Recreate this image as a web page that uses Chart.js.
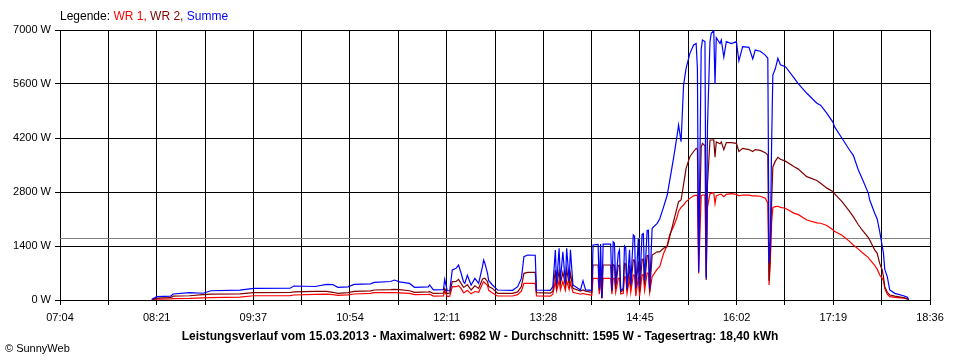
<!DOCTYPE html>
<html>
<head>
<meta charset="utf-8">
<script src="https://cdn.jsdelivr.net/npm/chart.js@4.4.1/dist/chart.umd.min.js"></script>
<style>
  body { margin: 0; background: #fff; }
  #wrap { position: relative; width: 960px; height: 360px; font-family: "Liberation Sans", Arial, sans-serif; }
  #chart { position: absolute; left: 0; top: 0; }
  #legend { position: absolute; left: 60px; top: 9px; font-size: 12px; color: #000; white-space: nowrap; }
  #title { position: absolute; left: 0; width: 960px; top: 329px; text-align: center; font-size: 12px; font-weight: bold; color: #000; white-space: nowrap; }
  #copy { position: absolute; left: 5px; top: 342px; font-size: 11px; color: #000; white-space: nowrap; }
</style>
</head>
<body>
<div id="wrap">
  <canvas id="chart" width="960" height="360"></canvas>
  <div id="legend">Legende: <span style="color:#ff0000">WR 1,</span> <span style="color:#800000">WR 2,</span> <span style="color:#0000ff">Summe</span></div>
  <div id="title">Leistungsverlauf vom 15.03.2013 - Maximalwert: 6982 W - Durchschnitt: 1595 W - Tagesertrag: 18,40 kWh</div>
  <div id="copy">© SunnyWeb</div>
</div>
<script>
// Achse
const startTime = '07:04';
const endTime = '18:36';
const tickLabels = ['07:04', '08:21', '09:37', '10:54', '12:11', '13:28', '14:45', '16:02', '17:19', '18:36'];
const average = 1595;

// Messzeitpunkte
const times = [
  '08:17', '08:21', '08:32', '08:34', '08:47', '08:58', '09:04', '09:27', '09:38', '10:07',
  '10:10', '10:27', '10:36', '10:41', '10:45', '10:53', '10:58', '11:11', '11:14', '11:27',
  '11:30', '11:34', '11:42', '11:46', '11:57', '11:58', '12:01', '12:09', '12:10', '12:12',
  '12:14', '12:16', '12:19', '12:21', '12:23', '12:25', '12:26', '12:28', '12:31', '12:34',
  '12:37', '12:40', '12:41', '12:42', '12:44', '12:45', '12:48', '12:52', '13:04', '13:08',
  '13:11', '13:13', '13:16', '13:22', '13:23', '13:34', '13:36', '13:38', '13:39', '13:41',
  '13:42', '13:44', '13:46', '13:47', '13:49', '13:50', '13:52', '13:58', '14:00', '14:02',
  '14:07', '14:08', '14:12', '14:13', '14:14', '14:15', '14:16', '14:22', '14:23', '14:24',
  '14:25', '14:26', '14:28', '14:29', '14:30', '14:32', '14:33', '14:34', '14:35', '14:37',
  '14:38', '14:40', '14:41', '14:42', '14:44', '14:45', '14:47', '14:48', '14:49', '14:51',
  '14:52', '14:53', '14:55', '14:59', '15:01', '15:04', '15:07', '15:09',
  '15:12', '15:15', '15:16', '15:18', '15:20', '15:22', '15:25', '15:28', '15:30', '15:31',
  '15:32', '15:34', '15:35', '15:37', '15:38', '15:39', '15:41', '15:42', '15:44', '15:45',
  '15:46', '15:49', '15:50', '15:52', '15:54', '15:58', '16:02', '16:04', '16:07', '16:12',
  '16:15', '16:17', '16:21', '16:25', '16:27', '16:28', '16:29', '16:30', '16:31', '16:33',
  '16:35', '16:37', '16:41', '16:48', '16:51', '16:58', '17:06', '17:09', '17:14', '17:19',
  '17:20', '17:26', '17:32', '17:35', '17:39', '17:42', '17:47', '17:48', '17:52', '17:54',
  '17:56', '17:58', '17:59', '18:00', '18:02', '18:04', '18:08', '18:15', '18:18', '18:19'
];

// Summe (W)
const summe = [
  20, 86, 100, 155, 190, 175, 240, 255, 300, 305,
  363, 350, 406, 400, 329, 340, 406, 420, 458, 480,
  518, 470, 430, 329, 340, 389, 260, 270, 536, 240,
  240, 778, 821, 907, 700, 470, 432, 640, 389, 560,
  430, 864, 1037, 950, 700, 500, 389, 259, 250, 345,
  560, 1123, 1167, 1160, 259, 250, 345, 1296, 400, 1340,
  500, 1250, 420, 1340, 500, 1300, 389, 260, 500, 260,
  250, 1426, 1440, 300, 1450, 50, 1450, 1452, 260, 1510,
  1480, 400, 1200, 1300, 250, 300, 1400, 1350, 300, 1300,
  400, 1685, 1650, 300, 1600, 350, 1700, 1720, 500, 1800,
  1810, 300, 1858, 1988, 2100, 2400, 2722, 3100,
  3673, 4300, 4537, 4104, 5574, 6006, 6395, 6611, 6650, 6000,
  734, 6500, 6741, 6700, 562, 4500, 6700, 6913, 6982, 5600,
  6800, 6650, 6741, 6300, 6700, 6650, 6700, 6200, 6568, 6550,
  6250, 6480, 6450, 6350, 6266, 960, 1500, 4000, 5833, 6000,
  6266, 6100, 6050, 5750, 5617, 5359, 5100, 5050, 4840, 4600,
  4494, 4193, 3889, 3750, 3370, 3150, 2765, 2600, 2247, 2100,
  1771, 1400, 1210, 800, 605, 259, 173, 110, 69, 10
];

// WR 2 (W)
const wr2 = [
  10, 50, 60, 100, 110, 140, 150, 160, 190, 195,
  210, 225, 225, 200, 173, 190, 225, 235, 259, 270,
  277, 270, 240, 200, 210, 215, 170, 175, 300, 165,
  180, 475, 480, 536, 430, 330, 345, 400, 260, 370,
  300, 540, 562, 560, 480, 350, 300, 173, 173, 210,
  350, 691, 717, 717, 190, 180, 220, 778, 350, 760,
  420, 720, 380, 800, 400, 690, 300, 230, 260, 230,
  200, 907, 907, 250, 907, 50, 907, 907, 220, 920,
  900, 300, 900, 900, 220, 250, 950, 930, 250, 900,
  350, 1037, 1030, 300, 1000, 200, 1050, 1060, 400, 1150,
  1150, 200, 1167, 1250, 1250, 1340, 1383, 1642,
  2030, 2420, 2550, 2593, 3000, 3414, 3716, 3850, 3933, 3900,
  1100, 3950, 4062, 4000, 519, 3000, 4148, 4148, 4150, 3700,
  4100, 4050, 4100, 3900, 4080, 4080, 4060, 3850, 3933, 3900,
  3850, 3900, 3880, 3820, 3759, 500, 1200, 2500, 3450, 3600,
  3700, 3647, 3600, 3457, 3400, 3198, 3100, 3025, 2900, 2808,
  2760, 2550, 2300, 2160, 1950, 1815, 1620, 1556, 1300, 1210,
  950, 778, 600, 345, 200, 130, 100, 60, 30, 5
];

// WR 1 (W)
const wr1 = [
  10, 25, 30, 35, 40, 55, 60, 75, 110, 112,
  130, 145, 150, 140, 120, 135, 155, 170, 190, 190,
  195, 185, 170, 140, 145, 150, 100, 105, 230, 90,
  100, 345, 345, 370, 300, 190, 200, 250, 160, 220,
  200, 420, 475, 440, 380, 250, 180, 104, 104, 140,
  230, 432, 432, 432, 104, 100, 150, 475, 240, 500,
  260, 480, 250, 500, 270, 450, 200, 150, 170, 150,
  120, 562, 562, 150, 562, 40, 562, 562, 150, 562,
  560, 200, 560, 560, 160, 170, 600, 590, 170, 560,
  200, 648, 640, 100, 600, 100, 650, 660, 250, 700,
  700, 200, 605, 800, 864, 1200, 1426, 1700,
  1900, 2160, 2300, 2400, 2463, 2550, 2635, 2700, 2720, 2700,
  690, 2700, 2722, 2722, 600, 2400, 2765, 2765, 2780, 2500,
  2700, 2740, 2740, 2680, 2740, 2760, 2740, 2700, 2722, 2720,
  2700, 2700, 2690, 2640, 2506, 389, 1000, 2000, 2400, 2420,
  2430, 2402, 2380, 2247, 2220, 2074, 2000, 1990, 1930, 1815,
  1780, 1680, 1520, 1426, 1320, 1230, 1100, 1050, 900, 800,
  648, 560, 500, 300, 150, 86, 70, 50, 30, 5
];

function toMin(s) {
  const p = s.split(':');
  return parseInt(p[0], 10) * 60 + parseInt(p[1], 10);
}

const xMin = toMin(startTime);
const xMax = toMin(endTime);
// 18 Rasterlinien, jede zweite beschriftet
const gridSteps = 18;
const gridValues = [];
for (let i = 0; i <= gridSteps; i++) gridValues.push(xMin + i * (xMax - xMin) / gridSteps);

const toPoints = vals => times.map((t, i) => ({ x: toMin(t), y: vals[i] }));

const font = { family: "'Liberation Sans', Arial, sans-serif", size: 11 };

const ctx = document.getElementById('chart').getContext('2d');
new Chart(ctx, {
  type: 'line',
  data: {
    datasets: [
      { label: 'Summe', data: toPoints(summe), borderColor: '#0000ff', borderWidth: 1.2, pointRadius: 0, fill: false, tension: 0 },
      { label: 'WR 2', data: toPoints(wr2), borderColor: '#800000', borderWidth: 1.2, pointRadius: 0, fill: false, tension: 0 },
      { label: 'WR 1', data: toPoints(wr1), borderColor: '#ff0000', borderWidth: 1.2, pointRadius: 0, fill: false, tension: 0 },
      { label: 'Durchschnitt', data: [{ x: xMin, y: average }, { x: xMax, y: average }], borderColor: '#808080', borderWidth: 1, pointRadius: 0, fill: false }
    ]
  },
  options: {
    responsive: false,
    animation: false,
    events: [],
    layout: { padding: { top: 30, right: 30, left: 0, bottom: 0 } },
    plugins: {
      legend: { display: false },
      tooltip: { enabled: false }
    },
    scales: {
      x: {
        type: 'linear',
        min: xMin,
        max: xMax,
        afterBuildTicks: s => { s.ticks = gridValues.map(v => ({ value: v })); },
        afterFit: s => { s.height = 60; },
        ticks: {
          autoSkip: false,
          maxRotation: 0,
          color: '#000',
          font: font,
          padding: 6,
          callback: (v, i) => (i % 2 === 0 ? tickLabels[i / 2] : '')
        },
        grid: { color: '#000', lineWidth: 1, tickLength: 5 },
        border: { color: '#000' }
      },
      y: {
        min: 0,
        max: 7000,
        afterFit: s => { s.width = 60; },
        ticks: {
          stepSize: 1400,
          color: '#000',
          font: font,
          padding: 4,
          callback: v => v + ' W'
        },
        grid: { color: '#000', lineWidth: 1, tickLength: 5 },
        border: { color: '#000' }
      }
    }
  }
});
</script>
</body>
</html>
